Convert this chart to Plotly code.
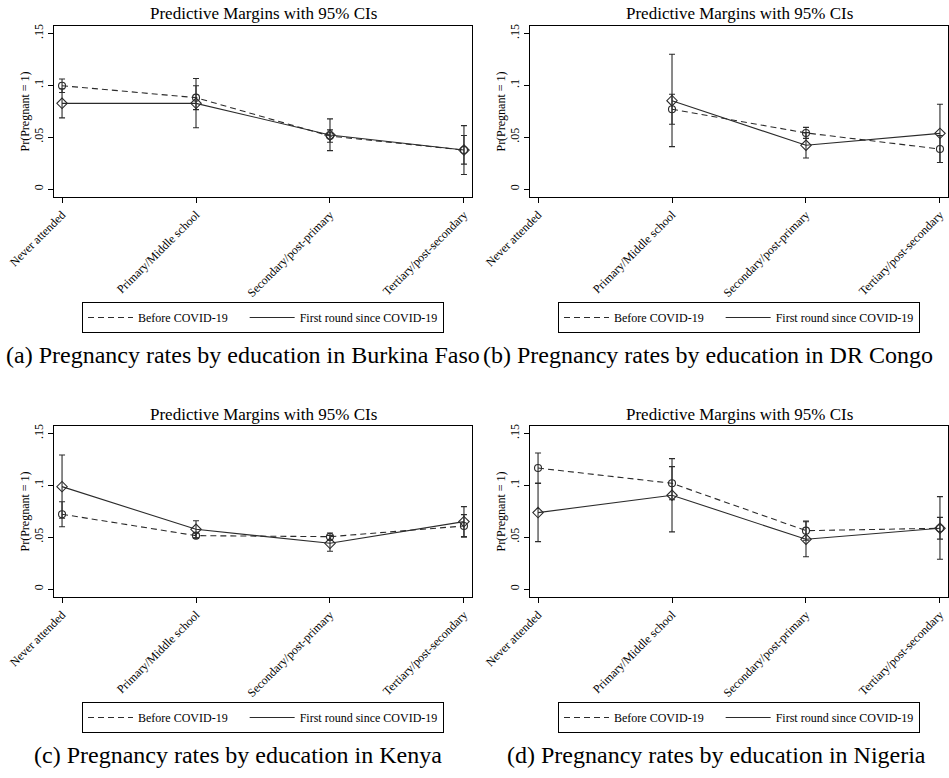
import plotly.graph_objects as go

categories = ["Never attended", "Primary/Middle school", "Secondary/post-primary", "Tertiary/post-secondary"]
cat_pos = [0, 1, 2, 3]
ytick_vals = [0, 0.05, 0.1, 0.15]
ytick_text = ["0", ".05", ".1", ".15"]
series_names = ["Before COVID-19", "First round since COVID-19"]
panel_title = "Predictive Margins with 95% CIs"
y_title = "Pr(Pregnant = 1)"
captions = [
    "(a) Pregnancy rates by education in Burkina Faso",
    "(b) Pregnancy rates by education in DR Congo",
    "(c) Pregnancy rates by education in Kenya",
    "(d) Pregnancy rates by education in Nigeria",
]

# Burkina Faso
bf_before = [0.0995, 0.0880, 0.0510, 0.0375]
bf_before_lo = [0.0930, 0.0765, 0.0450, 0.0240]
bf_before_hi = [0.1060, 0.0995, 0.0570, 0.0515]
bf_after = [0.0825, 0.0825, 0.0520, 0.0375]
bf_after_lo = [0.0685, 0.0590, 0.0370, 0.0140]
bf_after_hi = [0.0965, 0.1065, 0.0675, 0.0610]

# DR Congo
dr_before = [None, 0.0768, 0.0540, 0.0385]
dr_before_lo = [None, 0.0623, 0.0488, 0.0255]
dr_before_hi = [None, 0.0913, 0.0594, 0.0515]
dr_after = [None, 0.0851, 0.0421, 0.0536]
dr_after_lo = [None, 0.0408, 0.0299, 0.0256]
dr_after_hi = [None, 0.1298, 0.0543, 0.0816]

# Kenya
ke_before = [0.0720, 0.0514, 0.0504, 0.0607]
ke_before_lo = [0.0600, 0.0490, 0.0470, 0.0498]
ke_before_hi = [0.0840, 0.0540, 0.0540, 0.0716]
ke_after = [0.0986, 0.0575, 0.0440, 0.0649]
ke_after_lo = [0.0682, 0.0492, 0.0363, 0.0505]
ke_after_hi = [0.1290, 0.0658, 0.0517, 0.0793]

# Nigeria
ng_before = [0.1165, 0.1018, 0.0562, 0.0585]
ng_before_lo = [0.1020, 0.0860, 0.0470, 0.0480]
ng_before_hi = [0.1310, 0.1179, 0.0655, 0.0690]
ng_after = [0.0736, 0.0903, 0.0479, 0.0585]
ng_after_lo = [0.0456, 0.0550, 0.0310, 0.0286]
ng_after_hi = [0.1016, 0.1256, 0.0648, 0.0890]

panels = [
    (bf_before, bf_before_lo, bf_before_hi, bf_after, bf_after_lo, bf_after_hi),
    (dr_before, dr_before_lo, dr_before_hi, dr_after, dr_after_lo, dr_after_hi),
    (ke_before, ke_before_lo, ke_before_hi, ke_after, ke_after_lo, ke_after_hi),
    (ng_before, ng_before_lo, ng_before_hi, ng_after, ng_after_lo, ng_after_hi),
]

W, H = 949, 778
# plot-area boxes in pixels: (left, right, top, bottom)
boxes = [(54, 472, 26, 197), (530, 948, 26, 197), (54, 472, 426, 597), (530, 948, 426, 597)]
legend_top = [302, 302, 702, 702]
caption_pos = [(4, 355, "left"), (481, 355, "left"), (238, 755, "center"), (716, 755, "center")]

FONT = "Liberation Serif"
INK = "#2b2b2b"
PAD = "\u00a0" * 4  # extra gap after the first legend entry

fig = go.Figure()


def err(v, lo, hi):
    up = [None if a is None else h - a for a, h in zip(v, hi)]
    dn = [None if a is None else a - l for a, l in zip(v, lo)]
    return up, dn


for i, (b, blo, bhi, a, alo, ahi) in enumerate(panels):
    n = "" if i == 0 else str(i + 1)
    xa, ya = "x" + n, "y" + n
    up, dn = err(b, blo, bhi)
    fig.add_trace(go.Scatter(
        x=cat_pos, y=b, xaxis=xa, yaxis=ya, mode="lines+markers", showlegend=False,
        line=dict(color=INK, width=1.1, dash="6px,4px"),
        marker=dict(symbol="circle-open", size=7, color=INK, line=dict(width=1.1)),
        error_y=dict(type="data", symmetric=False, array=up, arrayminus=dn,
                     color=INK, thickness=1.1, width=3),
    ))
    up, dn = err(a, alo, ahi)
    fig.add_trace(go.Scatter(
        x=cat_pos, y=a, xaxis=xa, yaxis=ya, mode="lines+markers", showlegend=False,
        line=dict(color=INK, width=1.1),
        marker=dict(symbol="diamond-open", size=8, color=INK, line=dict(width=1.1)),
        error_y=dict(type="data", symmetric=False, array=up, arrayminus=dn,
                     color=INK, thickness=1.1, width=3),
    ))
    lg = "legend" + n
    fig.add_trace(go.Scatter(x=[None], y=[None], xaxis=xa, yaxis=ya, mode="lines",
                             name=series_names[0] + PAD, legend=lg,
                             line=dict(color=INK, width=1.1, dash="6px,4px")))
    fig.add_trace(go.Scatter(x=[None], y=[None], xaxis=xa, yaxis=ya, mode="lines",
                             name=series_names[1], legend=lg,
                             line=dict(color=INK, width=1.1)))

    l, r, t, btm = boxes[i]
    fig.layout["xaxis" + n] = dict(
        domain=[l / W, r / W], anchor=ya, range=[-0.06, 3.06], automargin=False,
        tickmode="array", tickvals=cat_pos, ticktext=categories, tickangle=-45,
        ticks="outside", ticklen=5, tickcolor="black", showline=True, mirror=True,
        linecolor="black", linewidth=1, showgrid=False, zeroline=False,
        tickfont=dict(family=FONT, size=12, color="black"),
    )
    fig.layout["yaxis" + n] = dict(
        domain=[1 - btm / H, 1 - t / H], anchor=xa, range=[-0.0077, 0.157], automargin=False,
        tickmode="array", tickvals=ytick_vals, ticktext=ytick_text, tickangle=-90,
        ticks="outside", ticklen=5, tickcolor="black", showline=True, mirror=True,
        linecolor="black", linewidth=1, showgrid=False, zeroline=False,
        tickfont=dict(family=FONT, size=12, color="black"),
        title=dict(text=y_title, font=dict(family=FONT, size=12, color="black"), standoff=0),
    )
    fig.layout[lg] = dict(
        orientation="h", x=((l + r) / 2) / W, xanchor="center", y=1 - legend_top[i] / H,
        yanchor="top", bordercolor="black", borderwidth=1, bgcolor="white",
        font=dict(family=FONT, size=12, color="black"), itemwidth=45,
    )
    fig.add_annotation(text=panel_title, x=((l + r) / 2) / W, y=1 - (t - 12) / H,
                       xref="paper", yref="paper", showarrow=False, xanchor="center", yanchor="middle",
                       font=dict(family=FONT, size=17, color="black"))
    cx, cy, anc = caption_pos[i]
    fig.add_annotation(text=captions[i], x=cx / W, y=1 - cy / H, xref="paper", yref="paper",
                       showarrow=False, xanchor=anc, yanchor="middle",
                       font=dict(family=FONT, size=24, color="black"))

fig.update_layout(width=W, height=H, margin=dict(l=0, r=0, t=0, b=0),
                  paper_bgcolor="white", plot_bgcolor="white")
fig.write_html("out.html")
